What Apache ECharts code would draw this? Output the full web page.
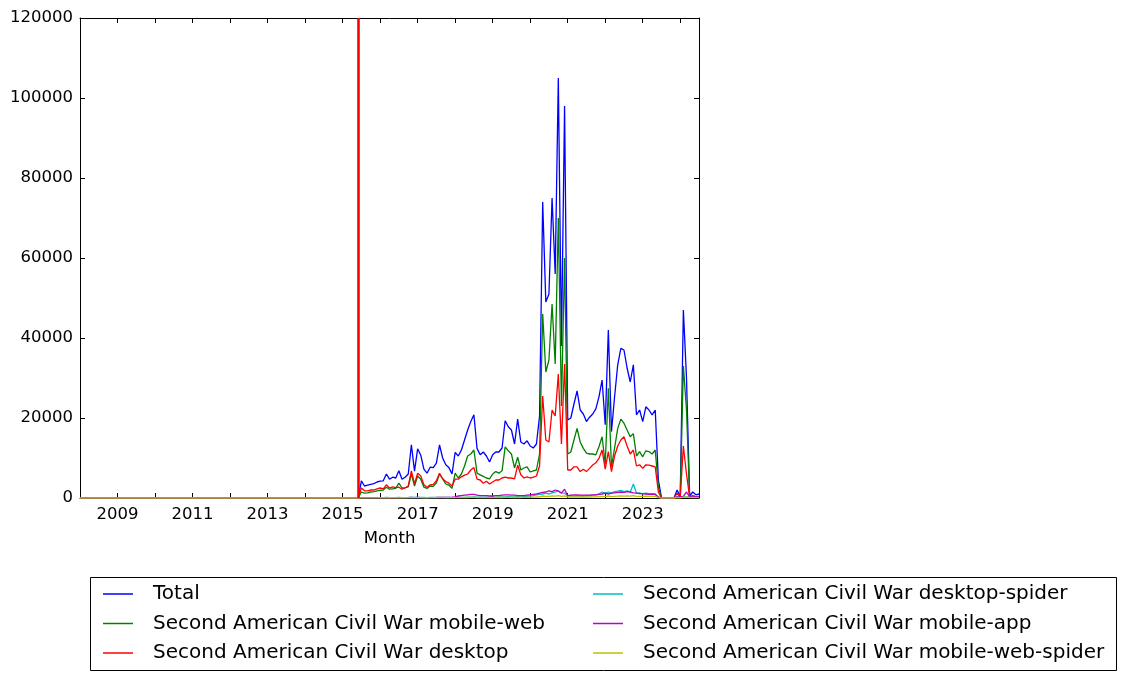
<!DOCTYPE html>
<html>
<head>
<meta charset="utf-8">
<script src="https://cdn.jsdelivr.net/npm/echarts@6/dist/echarts.min.js"></script>
<style>
html,body{margin:0;padding:0;background:#fff;}
#c{width:1125px;height:679px;}
</style>
</head>
<body>
<div id="c"></div>
<script>
// Months 2008-01 .. 2024-07 (category axis)
const months = [];
for (let y = 2008; y <= 2024; y++) {
  for (let m = 1; m <= 12; m++) {
    if (y === 2024 && m > 7) break;
    months.push(y + '-' + (m < 10 ? '0' + m : '' + m));
  }
}
const tickYears = ['2009','2011','2013','2015','2017','2019','2021','2023'];
const yTicks = [0, 20000, 40000, 60000, 80000, 100000, 120000];
const markerMonth = '2015-06';

// 2008-01 .. 2015-06 : no views (90 months)
const zerosBeforeJul2015 = [
  0,0,0,0,0,0,0,0,0,0,0,0,
  0,0,0,0,0,0,0,0,0,0,0,0,
  0,0,0,0,0,0,0,0,0,0,0,0,
  0,0,0,0,0,0,0,0,0,0,0,0,
  0,0,0,0,0,0,0,0,0,0,0,0,
  0,0,0,0,0,0,0,0,0,0,0,0,
  0,0,0,0,0,0,0,0,0,0,0,0,
  0,0,0,0,0,0
];

// 2015-07 .. 2024-07
const totalViews = [
  4300, 3000, 3200, 3400, 3600, 4000,
  4200, 4300, 6000, 4700, 5200, 5000, 6800, 4700, 5200, 6000, 13300, 6700,
  12300, 10700, 7200, 6200, 7700, 7600, 8700, 13300, 10000, 8300, 7600, 6000,
  11400, 10500, 12000, 14500, 17000, 19100, 20800, 12400, 10800, 11500, 10500, 9000,
  10800, 11500, 11500, 12500, 19300, 17800, 17000, 13500, 19700, 14000, 13500, 14300,
  13000, 12500, 13500, 20500, 74000, 49000, 51000, 75000, 56000, 105000, 38000, 98000,
  19500, 20000, 23500, 26800, 22000, 21000, 19100, 20200, 21000, 22300, 25300, 29500,
  18300, 42000, 16600, 25300, 33300, 37400, 37000, 32500, 29000, 33300, 20800, 22000,
  19100, 22800, 22000, 20800, 22000, 4500, 100, 0, 0, 0, 0, 2000,
  300, 47000, 30000, 500, 1500, 800, 1000
];
const mobileWeb = [
  1500, 1200, 1300, 1500, 1600, 1800,
  1900, 2000, 2700, 2200, 2300, 2400, 3700, 2500, 2600, 2800, 6000, 3000,
  5500, 4700, 2700, 2400, 3000, 2900, 3800, 6000, 4800, 3500, 3200, 2400,
  6200, 5000, 6000, 8000, 10500, 11000, 12000, 6200, 5800, 5400, 5000, 4800,
  6000, 6600, 6200, 6800, 12800, 11800, 11000, 7500, 10200, 7000, 7500, 7800,
  6500, 6800, 7000, 11000, 46000, 31500, 34500, 48500, 33500, 70000, 23000, 60000,
  11000, 11500, 14500, 17400, 14000, 12400, 11200, 11000, 11000, 10800, 12800, 15300,
  8500, 27400, 7800, 12500, 17400, 19700, 18700, 17000, 15300, 16100, 10500, 11600,
  10300, 11800, 11600, 11000, 12000, 2800, 0, 0, 0, 0, 0, 300,
  200, 33000, 22000, 200, 600, 300, 400
];
const desktop = [
  2500, 1800, 1800, 2000, 2000, 2300,
  2500, 2300, 3300, 2500, 2800, 2600, 2700, 2200, 2500, 3000, 6800, 3500,
  6200, 5500, 3300, 2700, 3300, 3400, 4300, 6200, 4800, 4100, 3700, 3000,
  4700, 4700, 5300, 5700, 6000, 7000, 7600, 4700, 4500, 3700, 4200, 3500,
  4000, 4500, 4500, 5000, 5200, 5000, 5000, 4800, 8200, 5800, 5000, 5300,
  5000, 5200, 5500, 8000, 25500, 14500, 14000, 22000, 20500, 31000, 13500, 33500,
  7000, 7000, 7800, 7800, 6600, 7200, 6600, 7400, 8250, 8800, 9900, 12000,
  7200, 11600, 6600, 10500, 13000, 14500, 15300, 13000, 11000, 12000, 8000, 8300,
  7400, 8300, 8200, 8000, 7800, 1500, 0, 0, 0, 0, 0, 1200,
  100, 13000, 6000, 200, 500, 300, 300
];
const desktopSpider = [
  100, 80, 90, 100, 90, 100,
  100, 110, 120, 100, 110, 100, 120, 100, 110, 120, 150, 120,
  150, 130, 120, 110, 120, 120, 130, 150, 140, 130, 120, 110,
  150, 160, 170, 180, 200, 220, 250, 200, 200, 210, 200, 190,
  220, 230, 250, 260, 300, 320, 300, 280, 320, 300, 350, 400,
  500, 600, 800, 900, 1000, 1200, 1000, 1300, 1500, 1800, 1300, 1200,
  500, 600, 500, 600, 500, 500, 600, 600, 700, 800, 1000, 1500,
  1200, 1500, 1200, 1600, 1700, 1900, 1600, 1800, 1500, 3500, 1200, 1300,
  1000, 1200, 1100, 1000, 1000, 200, 0, 0, 0, 0, 0, 300,
  100, 300, 300, 200, 400, 300, 300
];
const mobileApp = [
  50, 40, 40, 50, 50, 60,
  60, 60, 70, 60, 70, 60, 80, 70, 70, 80, 120, 90,
  120, 100, 90, 90, 100, 100, 120, 150, 130, 130, 150, 200,
  300, 500, 600, 700, 800, 900, 900, 700, 600, 600, 600, 500,
  500, 600, 600, 700, 800, 800, 700, 700, 600, 600, 600, 700,
  800, 900, 1000, 1200, 1400, 1500, 1800, 1600, 2000, 1700, 1200, 2200,
  600, 700, 800, 800, 700, 700, 700, 700, 800, 800, 900, 1000,
  1200, 1000, 1200, 1300, 1400, 1500, 1400, 1600, 1500, 1300, 1200, 1100,
  1100, 1000, 900, 1000, 900, 200, 0, 0, 0, 0, 0, 200,
  300, 400, 1500, 300, 400, 300, 300
];
const mobileWebSpider = [
  50, 40, 40, 50, 50, 50,
  60, 60, 60, 60, 60, 60, 70, 60, 60, 70, 100, 70,
  80, 70, 60, 60, 70, 70, 80, 100, 90, 80, 80, 70,
  100, 100, 110, 120, 130, 150, 160, 120, 110, 110, 100, 100,
  110, 120, 120, 120, 150, 140, 130, 120, 140, 130, 140, 150,
  200, 220, 250, 300, 500, 400, 400, 500, 450, 600, 400, 500,
  250, 250, 250, 300, 250, 250, 250, 250, 300, 300, 350, 400,
  350, 500, 350, 400, 450, 500, 450, 500, 450, 600, 400, 400,
  400, 450, 400, 400, 400, 100, 0, 0, 0, 0, 0, 100,
  50, 200, 200, 100, 150, 100, 100
];

const seriesNames = [
  'Total',
  'Second American Civil War mobile-web',
  'Second American Civil War desktop',
  'Second American Civil War desktop-spider',
  'Second American Civil War mobile-app',
  'Second American Civil War mobile-web-spider'
];
const seriesValues = [totalViews, mobileWeb, desktop, desktopSpider, mobileApp, mobileWebSpider];
const seriesColors = ['#0000ff', '#008000', '#ff0000', '#00bfbf', '#bf00bf', '#bfbf00'];

const FONT = 'DejaVu Sans';
const chart = echarts.init(document.getElementById('c'), null, {renderer: 'canvas'});

const series = seriesNames.map((name, k) => {
  const s = {
    name: name,
    type: 'line',
    data: zerosBeforeJul2015.concat(seriesValues[k]),
    symbol: 'none',
    showSymbol: false,
    lineStyle: {color: seriesColors[k], width: 1.3},
    itemStyle: {color: seriesColors[k]},
    emphasis: {disabled: true},
    xAxisIndex: 0,
    yAxisIndex: 0,
    z: 2 + k * 0.01
  };
  if (k === 2) {
    s.markLine = {
      silent: true,
      symbol: ['none', 'none'],
      label: {show: false},
      lineStyle: {color: '#ff0000', width: 2.6, type: 'solid'},
      emphasis: {disabled: true},
      data: [{xAxis: markerMonth}]
    };
  }
  return s;
});

const isJan = (i, v) => v.slice(5) === '01';
const isLabel = (i, v) => v.slice(5) === '01' && tickYears.indexOf(v.slice(0, 4)) >= 0;

const legendCommon = {
  orient: 'vertical',
  icon: 'rect',
  itemWidth: 30,
  itemHeight: 1.5,
  itemGap: 7.5,
  selectedMode: false,
  textStyle: {color: '#000', fontFamily: FONT, fontSize: 20, lineHeight: 22, padding: [0, 0, 0, 15]}
};

chart.setOption({
  animation: false,
  backgroundColor: '#ffffff',
  grid: {left: 80, top: 18, width: 619, height: 480, containLabel: false},
  xAxis: [
    {
      type: 'category', data: months, boundaryGap: false, position: 'bottom',
      axisLine: {show: true, onZero: false, lineStyle: {color: '#000', width: 1}},
      axisTick: {show: true, inside: true, length: 5, interval: isJan, lineStyle: {color: '#000'}},
      axisLabel: {interval: isLabel, formatter: v => v.slice(0, 4), color: '#000', fontFamily: FONT, fontSize: 16.5, margin: 8},
      splitLine: {show: false},
      name: 'Month', nameLocation: 'middle', nameGap: 32,
      nameTextStyle: {color: '#000', fontFamily: FONT, fontSize: 16.5}
    },
    {
      type: 'category', data: months, boundaryGap: false, position: 'top',
      axisLine: {show: true, onZero: false, lineStyle: {color: '#000', width: 1}},
      axisTick: {show: true, inside: true, length: 5, interval: isJan, lineStyle: {color: '#000'}},
      axisLabel: {show: false},
      splitLine: {show: false}
    }
  ],
  yAxis: [
    {
      type: 'value', min: yTicks[0], max: yTicks[yTicks.length - 1], interval: 20000, position: 'left',
      axisLine: {show: true, lineStyle: {color: '#000', width: 1}},
      axisTick: {show: true, inside: true, length: 5, lineStyle: {color: '#000'}},
      axisLabel: {formatter: v => String(v), color: '#000', fontFamily: FONT, fontSize: 16.5, margin: 7},
      splitLine: {show: false}
    },
    {
      type: 'value', min: yTicks[0], max: yTicks[yTicks.length - 1], interval: 20000, position: 'right',
      axisLine: {show: true, lineStyle: {color: '#000', width: 1}},
      axisTick: {show: true, inside: true, length: 5, lineStyle: {color: '#000'}},
      axisLabel: {show: false},
      splitLine: {show: false}
    }
  ],
  legend: [
    Object.assign({}, legendCommon, {left: 98, top: 578, data: seriesNames.slice(0, 3)}),
    Object.assign({}, legendCommon, {left: 588, top: 578, data: seriesNames.slice(3, 6)})
  ],
  graphic: [
    {type: 'rect', left: 88, top: 575, shape: {width: 1026, height: 93},
     style: {fill: 'none', stroke: '#000', lineWidth: 1}, silent: true, z: 10}
  ],
  series: series
});
</script>
</body>
</html>
